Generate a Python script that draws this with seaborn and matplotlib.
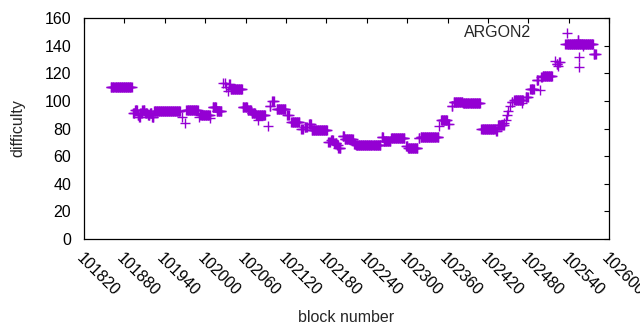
import numpy as np
import pandas as pd
import seaborn as sns
import matplotlib.pyplot as plt

# difficulty holds steady over runs of blocks: (first block, last block, difficulty)
run_start = [101860, 101893, 101896, 101900, 101902, 101904, 101907, 101911, 101915, 101918,
             101921, 101924, 101966, 101970, 101972, 101991, 101993, 102008, 102011, 102017,
             102027, 102029, 102031, 102034, 102036, 102038, 102056, 102063, 102069, 102075,
             102078, 102093, 102096, 102100, 102106, 102122, 102128, 102143, 102148, 102154,
             102158, 102183, 102187, 102192, 102196, 102198, 102204, 102207, 102221, 102224,
             102262, 102265, 102276, 102298, 102301, 102317, 102320, 102347, 102350, 102361,
             102366, 102369, 102383, 102410, 102432, 102435, 102444, 102446, 102448, 102450,
             102453, 102455, 102459, 102470, 102476, 102483, 102492, 102497, 102499, 102501,
             102520, 102522, 102524, 102526, 102535, 102553, 102555, 102555, 102561, 102577]
run_end = [101891, 101895, 101899, 101901, 101903, 101906, 101910, 101914, 101917, 101920,
           101923, 101963, 101966, 101970, 101989, 101991, 102007, 102008, 102016, 102024,
           102027, 102029, 102031, 102034, 102037, 102055, 102062, 102068, 102074, 102089,
           102078, 102093, 102097, 102102, 102119, 102124, 102140, 102145, 102151, 102157,
           102181, 102185, 102190, 102195, 102197, 102201, 102206, 102219, 102223, 102260,
           102264, 102275, 102296, 102300, 102315, 102318, 102346, 102347, 102359, 102362,
           102367, 102382, 102408, 102430, 102433, 102443, 102444, 102446, 102448, 102450,
           102453, 102456, 102472, 102470, 102479, 102488, 102494, 102497, 102500, 102515,
           102520, 102523, 102524, 102527, 102576, 102554, 102555, 102555, 102561, 102580]
run_diff = [110, 91.5, 93.5, 90, 88, 91, 93.5, 91.5, 89.5, 91.5,
            88, 93, 88.5, 84, 93.5, 88.5, 90, 87.5, 95.5, 93,
            113, 113, 110, 107, 112, 109, 95.5, 93.5, 91.5, 90,
            86, 82, 96.5, 100, 94.5, 90, 85, 79.5, 81, 83,
            79, 70.5, 72, 69.5, 68, 66, 74.5, 72.5, 69, 68,
            74, 71, 73.5, 67, 66, 73, 74, 81.5, 86, 83,
            96.5, 99, 98.5, 79.5, 78, 82.5, 84, 86, 90, 93,
            96, 99.5, 100.5, 98.5, 103, 108.5, 115, 108, 117.5, 118,
            129, 127, 125, 128.5, 141, 144, 132, 124.5, 139.5, 134]

blocks = np.concatenate([np.arange(s, e + 1) for s, e in zip(run_start, run_end)])
diffs = np.concatenate([np.full(e - s + 1, d, dtype=float)
                        for s, e, d in zip(run_start, run_end, run_diff)])
df = pd.DataFrame({'block': blocks, 'difficulty': diffs})

sns.set_style('white')
plt.rcParams['font.family'] = ['Liberation Sans', 'DejaVu Sans']
plt.rcParams['font.size'] = 11.5

fig = plt.figure(figsize=(6.4, 3.3), dpi=100)
ax = fig.add_axes([0.131, 0.276, 0.821, 0.669])

sns.scatterplot(data=df, x='block', y='difficulty', marker='+', s=42,
                color='#9400D3', linewidth=1, label='ARGON2', ax=ax)

ax.set_xlim(101820, 102600)
ax.set_ylim(0, 160)
ax.set_xticks(np.arange(101820, 102601, 60))
ax.set_yticks(np.arange(0, 161, 20))
ax.tick_params(direction='in', length=3.6, width=0.8, top=True, right=True,
               labelsize=11.5, colors='black')
ax.tick_params(axis='y', pad=9)
ax.tick_params(axis='x', pad=8)
for lab in ax.get_xticklabels():
    lab.set_rotation(-45)
    lab.set_ha('left')
    lab.set_va('top')
    lab.set_rotation_mode('anchor')
for sp in ax.spines.values():
    sp.set_color('black')
    sp.set_linewidth(0.9)

ax.set_xlabel('block number', fontsize=11.5, labelpad=8)
ax.set_ylabel('difficulty', fontsize=11.5, labelpad=14)

ax.legend(loc='upper right', bbox_to_anchor=(0.95, 0.97), frameon=False,
          markerfirst=False, handlelength=2, handletextpad=1.25,
          borderpad=0, borderaxespad=0, fontsize=11.5)

fig.savefig('out.png', dpi=100)
